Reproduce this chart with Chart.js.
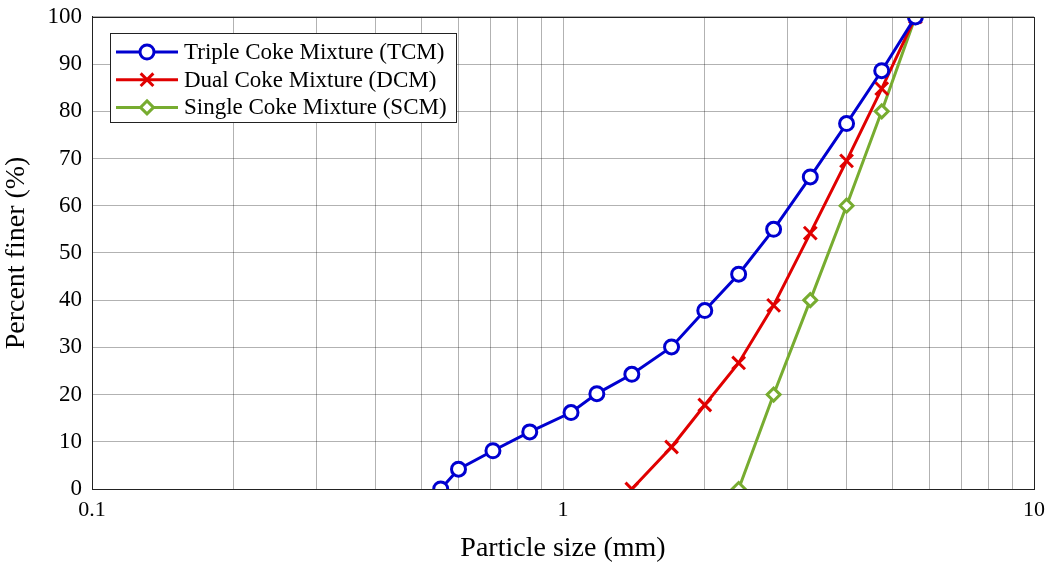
<!DOCTYPE html>
<html>
<head>
<meta charset="utf-8">
<script src="https://cdn.jsdelivr.net/npm/chart.js@4.4.1/dist/chart.umd.min.js"></script>
<style>
html,body{margin:0;padding:0;background:#fff;}
#wrap{width:1049px;height:565px;position:relative;}
</style>
</head>
<body>
<div id="wrap"><canvas id="c" width="1049" height="565"></canvas></div>
<script>
// ---- data ----
const tcmSize  = [0.55, 0.60, 0.71, 0.85, 1.04, 1.18, 1.40, 1.70, 2.00, 2.36, 2.80, 3.35, 4.00, 4.75, 5.60];
const tcmFiner = [0, 4.2, 8.1, 12.1, 16.2, 20.2, 24.3, 30.1, 37.8, 45.5, 55.0, 66.1, 77.4, 88.6, 100];

const dcmSize  = [1.40, 1.70, 2.00, 2.36, 2.80, 3.35, 4.00, 4.75, 5.60];
const dcmFiner = [0, 8.9, 17.8, 26.7, 38.9, 54.2, 69.5, 84.8, 100];

const scmSize  = [2.36, 2.80, 3.35, 4.00, 4.75, 5.60];
const scmFiner = [0, 20, 40, 60, 80, 100];

const seriesLabels = ['Triple Coke Mixture (TCM)', 'Dual Coke Mixture (DCM)', 'Single Coke Mixture (SCM)'];

const xTickValues = [0.1,0.2,0.3,0.4,0.5,0.6,0.7,0.8,0.9,1,2,3,4,5,6,7,8,9,10];
const xTickLabels = {0.1:'0.1', 1:'1', 10:'10'};
const yTickValues = [0,10,20,30,40,50,60,70,80,90,100];

const xTitle = 'Particle size (mm)';
const yTitle = 'Percent finer (%)';

// ---- styles ----
const FONT = '"Liberation Serif", "Times New Roman", serif';
const colors = ['#0000d0', '#e00000', '#77ac30'];
const styles = ['circle', 'crossRot', 'rectRot'];
const radii = [7, 9, 6.5];

function pts(xs, ys){ return xs.map((x,i)=>({x:x, y:ys[i]})); }

const datasets = [
  [tcmSize, tcmFiner], [dcmSize, dcmFiner], [scmSize, scmFiner]
].map((d,i)=>({
  label: seriesLabels[i],
  data: pts(d[0], d[1]),
  borderColor: colors[i],
  backgroundColor: '#ffffff',
  borderWidth: 3,
  pointStyle: styles[i],
  pointRadius: radii[i],
  pointHoverRadius: radii[i],
  pointBorderWidth: 3,
  pointBorderColor: colors[i],
  pointBackgroundColor: '#ffffff',
  tension: 0,
  fill: false
}));

function drawMarker(ctx, style, r, x, y){
  ctx.beginPath();
  if (style === 'circle') {
    ctx.arc(x, y, r, 0, Math.PI*2);
    ctx.fill(); ctx.stroke();
  } else if (style === 'crossRot') {
    const d = r*Math.SQRT1_2;
    ctx.moveTo(x-d, y-d); ctx.lineTo(x+d, y+d);
    ctx.moveTo(x+d, y-d); ctx.lineTo(x-d, y+d);
    ctx.stroke();
  } else {
    ctx.moveTo(x, y-r); ctx.lineTo(x+r, y); ctx.lineTo(x, y+r); ctx.lineTo(x-r, y); ctx.closePath();
    ctx.fill(); ctx.stroke();
  }
}

const framePlugin = {
  id: 'frame',
  afterDraw(chart){
    const ctx = chart.ctx, a = chart.chartArea;
    ctx.save();
    ctx.strokeStyle = '#222';
    ctx.lineWidth = 1;
    ctx.strokeRect(Math.round(a.left)+0.5, Math.round(a.top)+0.5, Math.round(a.right-a.left), Math.round(a.bottom-a.top));
    // legend box
    const bx = 110, by = 33, bw = 346, bh = 89;
    ctx.fillStyle = '#fff';
    ctx.fillRect(bx, by, bw, bh);
    ctx.strokeStyle = '#222';
    ctx.strokeRect(bx+0.5, by+0.5, bw, bh);
    chart.data.datasets.forEach((ds, i)=>{
      const y = 52 + i*27.7;
      ctx.strokeStyle = ds.borderColor;
      ctx.lineWidth = 3;
      ctx.beginPath(); ctx.moveTo(116, y); ctx.lineTo(178, y); ctx.stroke();
      ctx.fillStyle = '#fff';
      drawMarker(ctx, ds.pointStyle, ds.pointRadius, 147, y);
      ctx.fillStyle = '#000';
      ctx.font = '23px ' + FONT;
      ctx.textBaseline = 'middle';
      ctx.textAlign = 'left';
      ctx.fillText(ds.label, 184, y+1);
    });
    ctx.restore();
  }
};

new Chart(document.getElementById('c'), {
  type: 'line',
  data: { datasets: datasets },
  plugins: [framePlugin],
  options: {
    responsive: false,
    animation: false,
    layout: { padding: { left: 0, right: 15, top: 15, bottom: 0 } },
    plugins: { legend: { display: false }, tooltip: { enabled: false } },
    scales: {
      x: {
        type: 'logarithmic',
        min: 0.1, max: 10,
        afterBuildTicks: (s)=>{ s.ticks = xTickValues.map(v=>({value:v})); },
        afterFit: (s)=>{ s.height = 76; s.paddingRight = 0; s.paddingLeft = 0; },
        ticks: {
          autoSkip: false, maxRotation: 0, minRotation: 0,
          padding: 8,
          color: '#000',
          font: { family: FONT, size: 22 },
          callback: (v)=> (xTickLabels[v] !== undefined ? xTickLabels[v] : '')
        },
        grid: { color: 'rgba(0,0,0,0.3)', lineWidth: 1, drawTicks: false },
        border: { color: '#222', width: 1 },
        title: { display: true, text: xTitle, color: '#000', font: { family: FONT, size: 28 }, padding: { top: 0, bottom: 0 } }
      },
      y: {
        type: 'linear',
        min: 0, max: 100,
        afterBuildTicks: (s)=>{ s.ticks = yTickValues.map(v=>({value:v})); },
        afterFit: (s)=>{ s.width = 92; },
        ticks: {
          padding: 10,
          color: '#000',
          font: { family: FONT, size: 23, lineHeight: 0.6 }
        },
        grid: { color: 'rgba(0,0,0,0.3)', lineWidth: 1, drawTicks: false },
        border: { color: '#222', width: 1 },
        title: { display: true, text: yTitle, color: '#000', font: { family: FONT, size: 28 }, padding: { top: 0, bottom: 7 } }
      }
    }
  }
});
</script>
</body>
</html>
